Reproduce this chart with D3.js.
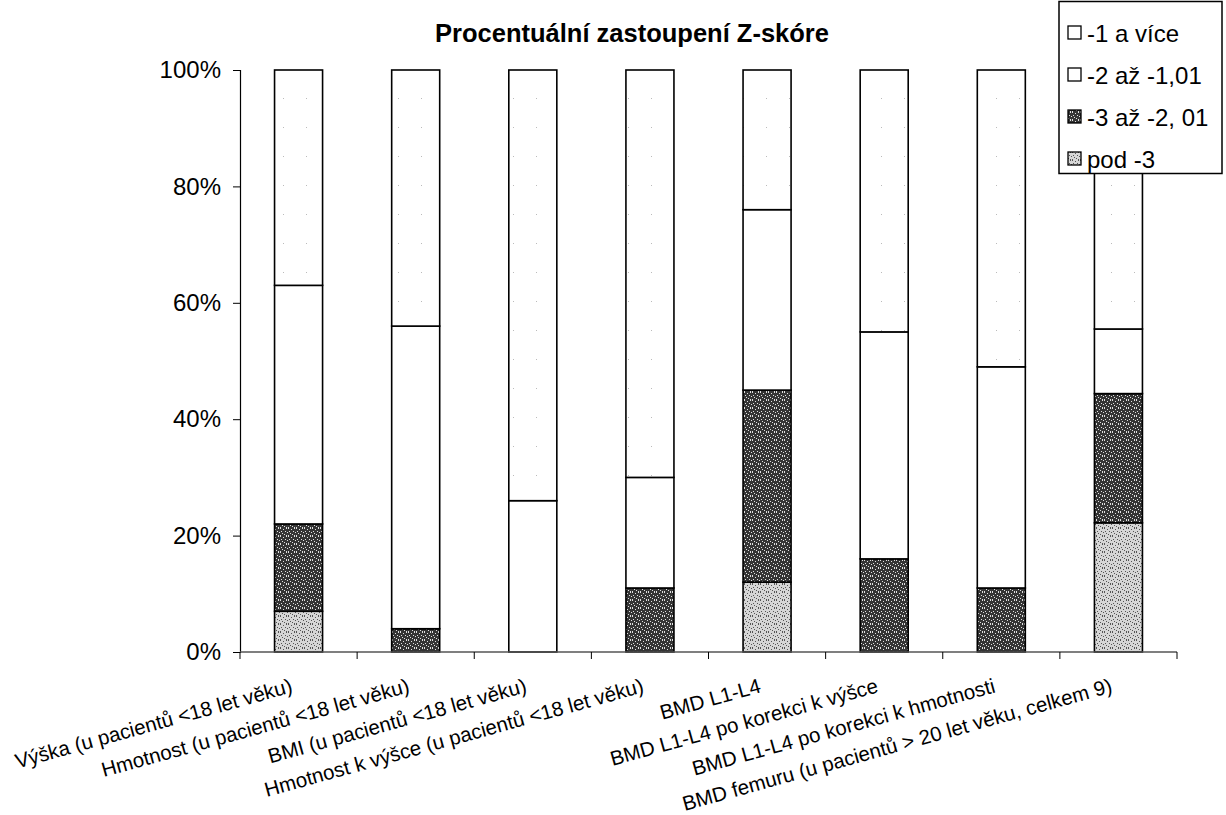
<!DOCTYPE html>
<html>
<head>
<meta charset="utf-8">
<script src="https://cdn.jsdelivr.net/npm/d3@7"></script>
<style>
  html, body { margin: 0; padding: 0; background: #fff; }
  svg { display: block; font-family: Arial, "Liberation Sans", sans-serif; }
</style>
</head>
<body>
<svg id="chart" width="1226" height="815"></svg>
<script>
// ---- data ----
const categories = [
  "Výška (u pacientů <18 let věku)",
  "Hmotnost (u pacientů <18 let věku)",
  "BMI (u pacientů <18 let věku)",
  "Hmotnost k výšce (u pacientů <18 let věku)",
  "BMD L1-L4",
  "BMD L1-L4 po korekci k výšce",
  "BMD L1-L4 po korekci k hmotnosti",
  "BMD femuru (u pacientů > 20 let věku, celkem 9)"
];
const seriesKeys = ["pod", "m3", "m2", "m1"];
const seriesNames = ["pod -3", "-3 až -2, 01", "-2 až -1,01", "-1 a více"];
const podMinus3 = [7, 0, 0, 0, 12, 0, 0, 22.2];
const minus3 = [15, 4, 0, 11, 33, 16, 11, 22.2];
const minus2 = [41, 52, 26, 19, 31, 39, 38, 11.1];
const minus1 = [37, 44, 74, 70, 24, 45, 51, 44.5];
const yTicks = [0, 20, 40, 60, 80, 100];
const titleText = "Procentuální zastoupení Z-skóre";

const rows = categories.map((c, i) => ({
  cat: c, pod: podMinus3[i], m3: minus3[i], m2: minus2[i], m1: minus1[i]
}));

const svg = d3.select("#chart");
const defs = svg.append("defs");

// textures
function speckle(id, bg, fg, dots) {
  const p = defs.append("pattern").attr("id", id)
    .attr("patternUnits", "userSpaceOnUse").attr("width", 8).attr("height", 8);
  p.append("rect").attr("width", 8).attr("height", 8).attr("fill", bg);
  dots.forEach(([x, y]) => p.append("rect").attr("x", x).attr("y", y)
    .attr("width", 1).attr("height", 1).attr("fill", fg));
}
const dotSet = [[0,0],[3,1],[6,0],[1,3],[5,3],[2,5],[7,4],[4,6],[0,7],[6,7]];
speckle("patDark", "#353535", "#e0e0e0", dotSet);
speckle("patLight", "#d6d6d6", "#555", dotSet);
defs.append("pattern").attr("id", "patWhite").attr("patternUnits", "userSpaceOnUse")
  .attr("width", 23).attr("height", 29)
  .call(p => {
    p.append("rect").attr("width", 23).attr("height", 29).attr("fill", "#fff");
    p.append("rect").attr("x", 7).attr("y", 11).attr("width", 1).attr("height", 1).attr("fill", "#bbb");
  });

const fills = { pod: "url(#patLight)", m3: "url(#patDark)", m2: "#ffffff", m1: "url(#patWhite)" };

// scales
const x = d3.scaleBand().domain(categories).range([240, 1177])
  .paddingInner(0.59).paddingOuter(0.295);
const y = d3.scaleLinear().domain([0, 100]).range([652, 70]);

const stacked = d3.stack().keys(seriesKeys)(rows);

// bars
const g = svg.append("g");
stacked.forEach(layer => {
  g.selectAll(null).data(layer).enter().append("rect")
    .attr("x", d => x(d.data.cat))
    .attr("width", x.bandwidth())
    .attr("y", d => y(d[1]))
    .attr("height", d => Math.max(0, y(d[0]) - y(d[1])))
    .attr("fill", fills[layer.key])
    .attr("stroke", "#000")
    .attr("stroke-width", 1.6)
    .attr("display", d => (d[1] - d[0]) > 0 ? null : "none");
});

// y axis
const yAxis = svg.append("g").attr("transform", `translate(${x.range()[0]},0)`)
  .call(d3.axisLeft(y).tickValues(yTicks).tickFormat(d => d + "%").tickSize(7).tickPadding(12));
yAxis.select(".domain").attr("stroke", "#000").attr("stroke-width", 1.2);
yAxis.selectAll(".tick line").attr("stroke", "#000");
yAxis.selectAll("text").attr("font-size", 24).attr("fill", "#000")
  .attr("font-family", "Arial, 'Liberation Sans', sans-serif");

// x axis
const step = x.step();
const gap = step - x.bandwidth();
const xa = svg.append("g");
xa.append("line").attr("x1", x.range()[0]).attr("x2", x.range()[1])
  .attr("y1", y(0)).attr("y2", y(0)).attr("stroke", "#555").attr("stroke-width", 1.4);
const bounds = categories.map(c => x(c) - gap / 2)
  .concat([x(categories[categories.length - 1]) + x.bandwidth() + gap / 2]);
xa.selectAll(".tk").data(bounds).enter().append("line")
  .attr("x1", d => d).attr("x2", d => d)
  .attr("y1", y(0)).attr("y2", y(0) + 7).attr("stroke", "#000");

xa.selectAll(".lbl").data(categories).enter().append("text")
  .attr("transform", d => `translate(${x(d) + x.bandwidth() / 2 - 5},${y(0) + 40}) rotate(-15.5)`)
  .attr("text-anchor", "end")
  .attr("font-size", 20.5)
  .attr("fill", "#000")
  .text(d => d);

// title
svg.append("text").attr("x", 632).attr("y", 42).attr("text-anchor", "middle")
  .attr("font-size", 25.5).attr("font-weight", "bold").attr("fill", "#000")
  .text(titleText);

// legend
const lg = svg.append("g");
lg.append("rect").attr("x", 1059).attr("y", 1.5).attr("width", 163).attr("height", 172)
  .attr("fill", "#fff").attr("stroke", "#000").attr("stroke-width", 1.5);
const legendOrder = ["m1", "m2", "m3", "pod"];
const ly = d3.scalePoint().domain(legendOrder).range([33, 159]);
legendOrder.forEach(k => {
  const i = seriesKeys.indexOf(k);
  lg.append("rect").attr("x", 1068).attr("y", ly(k) - 7).attr("width", 13).attr("height", 13)
    .attr("fill", fills[k]).attr("stroke", "#000").attr("stroke-width", 1.3);
  lg.append("text").attr("x", 1087).attr("y", ly(k) + 8.5).attr("font-size", 24).attr("fill", "#000")
    .text(seriesNames[i]);
});
</script>
</body>
</html>
